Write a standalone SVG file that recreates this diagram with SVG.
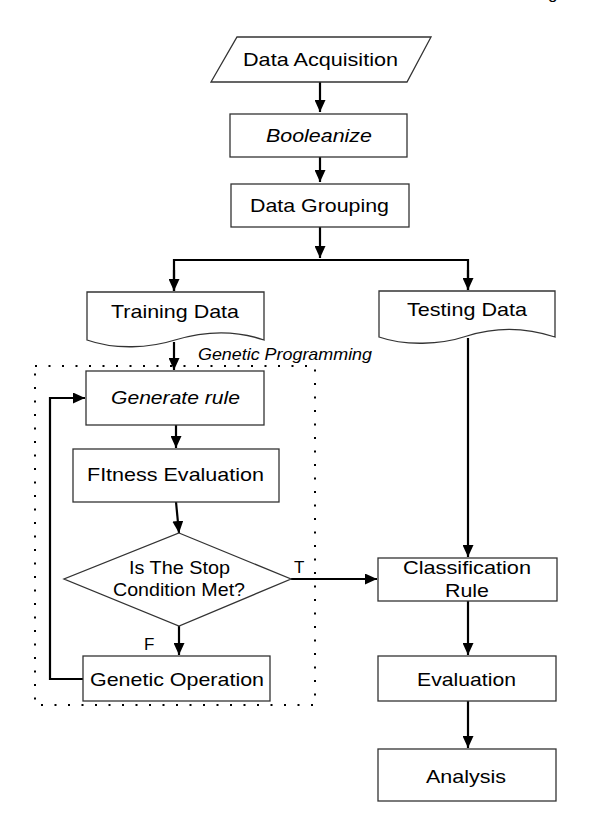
<svg xmlns="http://www.w3.org/2000/svg" width="589" height="825" viewBox="0 0 589 825">
<style>
.box{fill:#fff;stroke:#333;stroke-width:1.3}
.t{font-family:"Liberation Sans",Arial,sans-serif;font-size:19px;fill:#000;text-anchor:middle}
.s{font-family:"Liberation Sans",Arial,sans-serif;font-size:17px;fill:#000}
.i{font-style:italic}
.c{fill:none;stroke:#000;stroke-width:2.2}
.dot{fill:none;stroke:#000;stroke-width:2;stroke-dasharray:2 11.5}
</style>
<defs>
<marker id="ah" viewBox="0 0 12 11" refX="12" refY="5.5" markerWidth="12" markerHeight="11" markerUnits="userSpaceOnUse" orient="auto">
<path d="M0,0 L12,5.5 L0,11 Z" fill="#000"/>
</marker>
</defs>
<rect width="589" height="825" fill="#fff"/>
<text class="s" x="548" y="-1" font-size="20">g</text>

<g id="gp-frame">
<rect class="dot" x="35" y="366" width="280" height="339"/>
<text class="s i" x="198" y="360" font-size="15.5" textLength="174" lengthAdjust="spacingAndGlyphs">Genetic Programming</text>
</g>

<g id="connectors">
<path class="c" d="M320,82 V112" marker-end="url(#ah)"/>
<path class="c" d="M320,157 V182" marker-end="url(#ah)"/>
<path class="c" d="M320,227 V258" marker-end="url(#ah)"/>
<path class="c" d="M174,291 V260 H468 V290" />
<path class="c" d="M174,270 V291" marker-end="url(#ah)"/>
<path class="c" d="M468,270 V290" marker-end="url(#ah)"/>
<path class="c" d="M174,342 V370" marker-end="url(#ah)"/>
<path class="c" d="M468,338 V557" marker-end="url(#ah)"/>
<path class="c" d="M176,425 V448" marker-end="url(#ah)"/>
<path class="c" d="M176,502 L179,533" marker-end="url(#ah)"/>
<path class="c" d="M179,626 V655" marker-end="url(#ah)"/>
<path class="c" d="M291,579 H377" marker-end="url(#ah)"/>
<path class="c" d="M83,679 H50 V398 H85" marker-end="url(#ah)"/>
<path class="c" d="M468,601 V655" marker-end="url(#ah)"/>
<path class="c" d="M468,701 V748" marker-end="url(#ah)"/>
<text class="s" x="294" y="573">T</text>
<text class="s" x="144" y="650">F</text>
</g>

<g id="data-acquisition">
<path class="box" d="M237,37 L431,37 L407,82 L211,82 Z"/>
<text class="t" x="320.5" y="66" textLength="155" lengthAdjust="spacingAndGlyphs">Data Acquisition</text>
</g>
<g id="booleanize">
<rect class="box" x="230" y="114" width="177" height="43"/>
<text class="t i" x="319" y="142" textLength="106" lengthAdjust="spacingAndGlyphs">Booleanize</text>
</g>
<g id="data-grouping">
<rect class="box" x="231" y="184" width="178" height="43"/>
<text class="t" x="319.5" y="212" textLength="139" lengthAdjust="spacingAndGlyphs">Data Grouping</text>
</g>
<g id="training-data">
<path class="box" d="M87,292 H264 V340 C235,330 205,331 175,340 C150,348 115,350 87,340 Z"/>
<text class="t" x="175" y="318" textLength="128" lengthAdjust="spacingAndGlyphs">Training Data</text>
</g>
<g id="testing-data">
<path class="box" d="M379,291 H555 V337 C525,327 495,327 467,336 C440,345 405,346 379,337 Z"/>
<text class="t" x="467" y="316" textLength="120" lengthAdjust="spacingAndGlyphs">Testing Data</text>
</g>
<g id="generate-rule">
<rect class="box" x="86" y="371" width="178" height="54"/>
<text class="t i" x="175.5" y="404" textLength="129" lengthAdjust="spacingAndGlyphs">Generate rule</text>
</g>
<g id="fitness-evaluation">
<rect class="box" x="73" y="449" width="206" height="53"/>
<text class="t" x="175.5" y="481" textLength="177" lengthAdjust="spacingAndGlyphs">FItness Evaluation</text>
</g>
<g id="stop-condition">
<path class="box" d="M179,533 L291,579 L179,626 L64,579 Z"/>
<text class="t" x="179.5" y="574" font-size="17" textLength="101" lengthAdjust="spacingAndGlyphs">Is The Stop</text>
<text class="t" x="179" y="596" font-size="17" textLength="132" lengthAdjust="spacingAndGlyphs">Condition Met?</text>
</g>
<g id="genetic-operation">
<rect class="box" x="83" y="656" width="187" height="45"/>
<text class="t" x="177" y="686" textLength="174" lengthAdjust="spacingAndGlyphs">Genetic Operation</text>
</g>
<g id="classification-rule">
<rect class="box" x="378" y="558" width="179" height="43"/>
<text class="t" x="467" y="574" textLength="128" lengthAdjust="spacingAndGlyphs">Classification</text>
<text class="t" x="467" y="597" textLength="44" lengthAdjust="spacingAndGlyphs">Rule</text>
</g>
<g id="evaluation">
<rect class="box" x="378" y="656" width="178" height="45"/>
<text class="t" x="466.5" y="686" textLength="99" lengthAdjust="spacingAndGlyphs">Evaluation</text>
</g>
<g id="analysis">
<rect class="box" x="378" y="749" width="178" height="52"/>
<text class="t" x="466" y="783" textLength="80" lengthAdjust="spacingAndGlyphs">Analysis</text>
</g>
</svg>
